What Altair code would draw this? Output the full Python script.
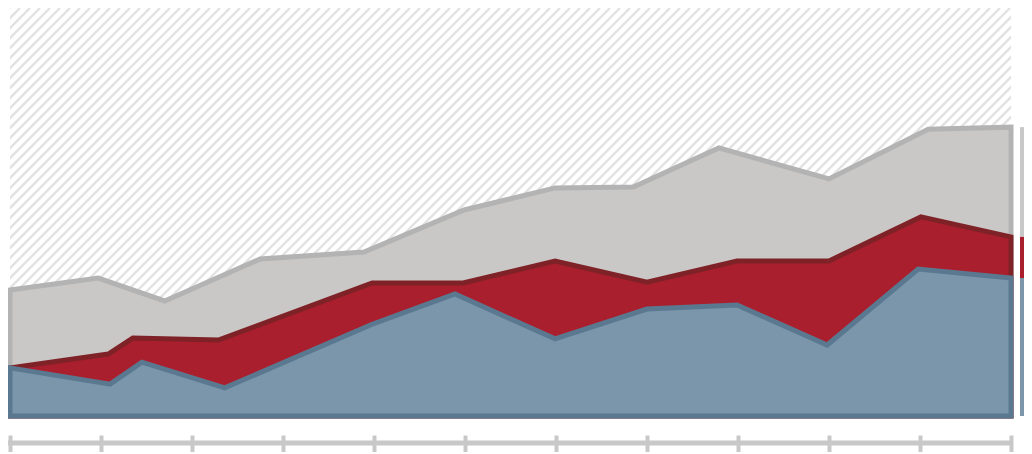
import altair as alt
import pandas as pd
import numpy as np

# x positions (in tick units, 12 ticks: 0..11) and values (0..100 of plot height)
tick_values = list(range(12))

grey_x = [0, 0.97, 1.70, 2.75, 3.89, 4.99, 5.99, 6.85, 7.79, 9.0, 10.09, 11.0]
grey_y = [30.9, 33.8, 28.2, 38.5, 40.2, 50.5, 55.9, 56.1, 65.7, 58.1, 70.3, 70.8]

red_x = [0, 1.08, 1.35, 2.29, 3.98, 4.98, 5.99, 7.0, 7.99, 9.0, 10.01, 11.0]
red_y = [11.8, 15.2, 19.1, 18.6, 32.6, 32.6, 38.0, 32.8, 38.0, 38.0, 48.8, 43.9]

blue_x = [0, 1.10, 1.45, 2.36, 3.98, 4.89, 5.99, 7.0, 7.99, 8.98, 9.98, 11.0]
blue_y = [11.8, 7.8, 13.2, 6.9, 22.5, 29.9, 18.9, 26.2, 27.2, 17.4, 36.0, 33.8]

GREY_FILL, GREY_STROKE = "#c9c8c6", "#b3b3b3"
RED_FILL, RED_STROKE = "#aa1f2d", "#7f2227"
BLUE_FILL, BLUE_STROKE = "#7b96aa", "#5b7891"
AXIS_GREY = "#c8c8c8"

W, H = 1001, 408
SIDE_X0, SIDE_X1 = 11.099, 11.15

xscale = alt.Scale(domain=[0, 11], nice=False, zero=False)
yscale = alt.Scale(domain=[0, 100], nice=False, zero=False)

x_axis = alt.Axis(
    values=tick_values, labels=False, domain=False, grid=False, ticks=True,
    tickSize=17, tickWidth=4, tickColor=AXIS_GREY, tickCap="butt", offset=19, title=None,
)

# decorative hatch background (45 degree stripes)
px_per_x = W / 11.0
starts = np.arange(-H, W + 10, 10.0)
hatch = pd.DataFrame({
    "x": starts / px_per_x,
    "x2": (starts + H) / px_per_x,
    "y": [0.0] * len(starts),
    "y2": [100.0] * len(starts),
})
hatch_layer = alt.Chart(hatch).mark_rule(clip=True, color="#e2e2e2", strokeWidth=2.4).encode(
    x=alt.X("x:Q", scale=xscale, axis=x_axis),
    x2="x2:Q",
    y=alt.Y("y:Q", scale=yscale, axis=None),
    y2="y2:Q",
)


def area(xs, ys, fill, stroke):
    df = pd.DataFrame({"x": xs, "y": ys})
    return alt.Chart(df).mark_area(
        fill=fill, stroke=stroke, strokeWidth=5, fillOpacity=1, interpolate="linear"
    ).encode(
        x=alt.X("x:Q", scale=xscale, axis=x_axis),
        y=alt.Y("y:Q", scale=yscale, axis=None),
    )


grey_layer = area(grey_x, grey_y, GREY_FILL, GREY_STROKE)
red_layer = area(red_x, red_y, RED_FILL, RED_STROKE)
blue_layer = area(blue_x, blue_y, BLUE_FILL, BLUE_STROKE)

axis_line = alt.Chart(pd.DataFrame({"a": [0]})).mark_rule(
    color=AXIS_GREY, strokeWidth=5, strokeCap="butt"
).encode(x=alt.value(-2), x2=alt.value(W + 2), y=alt.value(435))

# side bar with the last values
seg = pd.DataFrame({
    "x0": [SIDE_X0] * 3,
    "x1": [SIDE_X1] * 3,
    "y0": [red_y[-1], blue_y[-1], 0],
    "y1": [grey_y[-1], red_y[-1], blue_y[-1]],
    "c": ["#c8c8c8", RED_FILL, BLUE_FILL],
})
side = alt.Chart(seg).mark_rect().encode(
    x=alt.X("x0:Q", scale=xscale, axis=x_axis),
    x2="x1:Q",
    y=alt.Y("y0:Q", scale=yscale, axis=None),
    y2="y1:Q",
    color=alt.Color("c:N", scale=None, legend=None),
)

chart = alt.layer(hatch_layer, grey_layer, red_layer, blue_layer, axis_line, side).properties(
    width=W, height=H,
    autosize=alt.AutoSizeParams(type="none"),
    padding={"left": 2, "top": 0, "right": 13, "bottom": 36},
).configure_view(stroke=None)

chart.save("out.html", embed_options={"renderer": "svg", "actions": False})
